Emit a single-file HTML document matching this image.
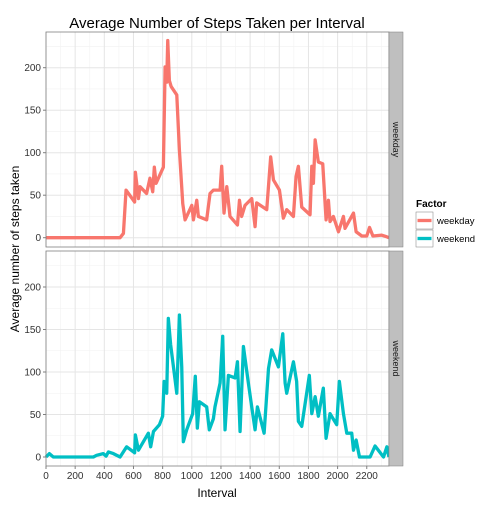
<!DOCTYPE html>
<html><head><meta charset="utf-8"><style>body{margin:0;background:#fff}svg{font-family:"Liberation Sans",sans-serif}</style></head>
<body>
<svg id="c" width="504" height="504"></svg>
<script>
const xTicks=[0,200,400,600,800,1000,1200,1400,1600,1800,2000,2200];
const yTicks=[0,50,100,150,200];
const weekdayX=[0,508,531,549,608,613,634,645,690,713,732,743,755,805,817,828,835,846,858,897,915,938,954,1000,1011,1034,1045,1102,1125,1148,1194,1205,1221,1240,1262,1313,1327,1342,1365,1411,1434,1445,1514,1541,1560,1601,1628,1651,1697,1715,1731,1754,1811,1823,1834,1846,1868,1898,1921,1937,1948,1971,2006,2040,2051,2109,2127,2166,2200,2219,2242,2303,2338,2352];
const weekdayY=[0,0,5,56,42,77,46,60,52,70,54,83,64,83,201,183,232,185,178,168,103,40,21,38,21,44,25,21,52,56,56,84,29,60,25,15,44,25,38,46,13,41,33,95,68,56,23,33,25,72,84,36,27,84,64,115,89,87,21,44,19,25,7,25,11,29,7,2,2,12,2,3,1,0];
const weekendX=[0,23,50,325,347,393,412,428,462,508,553,608,613,634,702,718,737,778,800,810,828,839,855,897,915,931,942,965,1006,1024,1038,1052,1102,1120,1148,1159,1194,1212,1228,1251,1297,1313,1331,1354,1388,1411,1434,1450,1496,1526,1548,1594,1624,1640,1651,1697,1719,1731,1754,1806,1823,1846,1868,1902,1921,1948,1994,2012,2040,2063,2097,2109,2127,2150,2223,2257,2315,2338,2352];
const weekendY=[0,4,0,0,2,4,1,6,4,0,12,5,26,8,28,12,30,38,48,89,75,163,132,75,167,106,18,32,51,95,34,65,59,32,45,59,87,142,32,96,93,112,30,130,87,59,32,59,28,104,126,106,145,87,75,112,89,42,36,96,51,71,48,81,22,51,38,89,51,28,28,8,20,0,0,13,0,12,0];
const svg=document.getElementById('c');const NS='http://www.w3.org/2000/svg';
function mk(t,a,p,name){const e=document.createElementNS(NS,t);for(const k in a)e.setAttribute(k,a[k]);


(p||svg).appendChild(e);return e;}
const X0=46,X1=389;const sx=v=>X0+v*0.1458;
const panels=[{top:32,bot:247,zero:237.7,name:'weekday',xs:weekdayX,ys:weekdayY,col:'#F8766D'},{top:251,bot:466,zero:457,name:'weekend',xs:weekendX,ys:weekendY,col:'#00BFC4'}];
panels.forEach(p=>{
 const sy=v=>p.zero-v*0.85;
 const g=mk('g',{},svg,p.name+'-panel');
 mk('rect',{x:X0,y:p.top,width:X1-X0,height:p.bot-p.top,fill:'#fff'},g,'panel-background');
 for(let v=100;v<2400;v+=200)mk('line',{x1:sx(v),x2:sx(v),y1:p.top,y2:p.bot,stroke:'#f2f2f2','stroke-width':0.6},g,'minor-grid-x');
 for(let v=25;v<250;v+=50)mk('line',{x1:X0,x2:X1,y1:sy(v),y2:sy(v),stroke:'#f2f2f2','stroke-width':0.6},g,'minor-grid-y');
 xTicks.forEach(v=>mk('line',{x1:sx(v),x2:sx(v),y1:p.top,y2:p.bot,stroke:'#e5e5e5','stroke-width':1},g,'major-grid-x'));
 yTicks.forEach(v=>{mk('line',{x1:X0,x2:X1,y1:sy(v),y2:sy(v),stroke:'#e5e5e5','stroke-width':1},g,'major-grid-y');
  mk('line',{x1:X0-3,x2:X0,y1:sy(v),y2:sy(v),stroke:'#7f7f7f'},g,'y-tick');
  const t=mk('text',{x:X0-5,y:sy(v)+3.5,'text-anchor':'end','font-size':10,fill:'#333'},g,'y-tick-label');t.textContent=v;});
 mk('polyline',{points:p.xs.map((x,i)=>sx(x)+','+sy(p.ys[i])).join(' '),fill:'none',stroke:p.col,'stroke-width':3.3,'stroke-linejoin':'round'},g,p.name+'-line');
 mk('rect',{x:X0,y:p.top,width:X1-X0,height:p.bot-p.top,fill:'none',stroke:'#7f7f7f','stroke-width':0.8},g,'panel-border');
 mk('rect',{x:X1,y:p.top,width:14,height:p.bot-p.top,fill:'#bfbfbf',stroke:'#7f7f7f','stroke-width':0.5},g,'strip');
 const st=mk('text',{x:0,y:0,'font-size':9,fill:'#1a1a1a','text-anchor':'middle',transform:`translate(${X1+4},${(p.top+p.bot)/2}) rotate(90)`},g,'strip-label');st.textContent=p.name;
});
xTicks.forEach(v=>{mk('line',{x1:sx(v),x2:sx(v),y1:466,y2:469,stroke:'#7f7f7f'},svg,'x-tick');
 const t=mk('text',{x:sx(v),y:479,'text-anchor':'middle','font-size':10,fill:'#333'},svg,'x-tick-label');t.textContent=v;});
let t=mk('text',{x:217,y:28,'text-anchor':'middle','font-size':15},svg,'chart-title');t.textContent='Average Number of Steps Taken per Interval';
t=mk('text',{x:217,y:497,'text-anchor':'middle','font-size':12},svg,'x-axis-title');t.textContent='Interval';
t=mk('text',{x:0,y:0,'text-anchor':'middle','font-size':12,transform:'translate(19,249) rotate(-90)'},svg,'y-axis-title');t.textContent='Average number of steps taken';
const lg=mk('g',{},svg,'legend');
t=mk('text',{x:416,y:207,'font-size':10,'font-weight':'bold'},lg,'legend-title');t.textContent='Factor';
[['weekday','#F8766D',212],['weekend','#00BFC4',230]].forEach(([n,c,y])=>{
 mk('rect',{x:416,y:y,width:17,height:17,fill:'#fff',stroke:'#7f7f7f','stroke-width':0.5},lg,'legend-key');
 mk('line',{x1:417.5,x2:431.5,y1:y+8.5,y2:y+8.5,stroke:c,'stroke-width':3.3},lg,'legend-swatch');
 const tt=mk('text',{x:437,y:y+12,'font-size':9.5},lg,'legend-label');tt.textContent=n;});
</script>
</body></html>
